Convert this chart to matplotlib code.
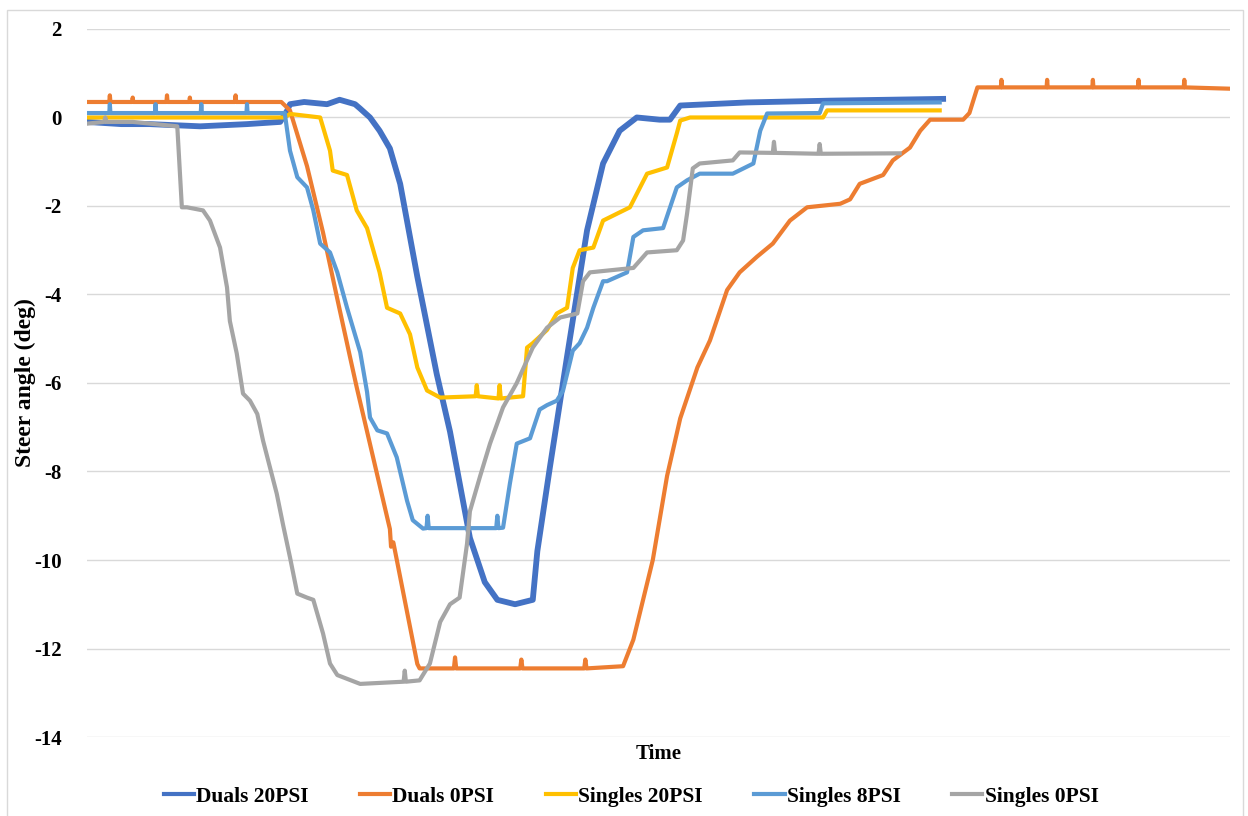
import matplotlib

matplotlib.use("Agg")
import matplotlib.pyplot as plt
from matplotlib.patches import Rectangle

plt.rcParams["font.family"] = ["Liberation Serif", "DejaVu Serif"]
plt.rcParams["font.weight"] = "bold"
plt.rcParams["axes.unicode_minus"] = False

# time axis is unlabeled in the original; samples 0..1000
duals20_t = [0, 30, 55, 99, 140, 169, 175, 177.6, 190, 210, 221, 234.5, 239, 247.6, 256, 265, 274,
             289, 306, 317.6, 335, 348, 359, 374.5, 390, 394, 405, 420, 437.5, 451.5, 466, 481,
             501, 510, 519, 577.5, 650, 700, 749]
duals20_y = [-0.1, -0.15, -0.15, -0.2, -0.15, -0.1, 0.15, 0.3, 0.35, 0.3, 0.4, 0.3, 0.2, 0.0, -0.3,
             -0.7, -1.5, -3.6, -5.8, -7.1, -9.5, -10.5, -10.9, -11.0, -10.9, -9.8, -7.9, -5.4,
             -2.55, -1.04, -0.3, 0.0, -0.05, -0.05, 0.27, 0.34, 0.38, 0.4, 0.42]

duals0_t = [0, 19.5, 20, 20.5, 39.5, 40, 40.5, 69.5, 70, 70.5, 89.5, 90, 90.5, 129.5, 130, 130.5,
            150, 170, 177.6, 192.5, 206.5, 219, 230, 236,
            265, 266, 268, 289, 291, 321, 322, 323, 379, 380, 381, 435, 436, 437, 469, 478, 495,
            507.5, 519, 534, 545, 560, 571, 586, 600, 615, 630, 659, 667.6, 676, 696.5,
            705, 720, 729, 737.6, 766.5, 772, 779, 799.5, 800, 800.5, 839.5, 840, 840.5, 879.5,
            880, 880.5, 919.5, 920, 920.5, 959.5, 960, 960.5, 1000]
duals0_y = [0.35, 0.35, 0.5, 0.35, 0.35, 0.45, 0.35, 0.35, 0.5, 0.35, 0.35, 0.45, 0.35, 0.35, 0.5,
            0.35, 0.35, 0.35, 0.16, -1.1, -2.6, -4.1, -5.4, -6.1,
            -9.3, -9.7, -9.6, -12.35, -12.45, -12.45, -12.2, -12.45, -12.45, -12.25, -12.45,
            -12.45, -12.25, -12.45, -12.4, -11.8, -10.0, -8.1, -6.8, -5.65, -5.04,
            -3.9, -3.5, -3.15, -2.85, -2.33, -2.03, -1.95, -1.85, -1.5, -1.3, -0.97,
            -0.68, -0.3, -0.05, -0.05, 0.1, 0.68, 0.68, 0.85, 0.68, 0.68, 0.85, 0.68, 0.68,
            0.85, 0.68, 0.68, 0.85, 0.68, 0.68, 0.85, 0.68, 0.65]

singles20_t = [0, 173, 177.6, 204, 212.6, 215, 227.5, 236, 245, 256, 262.5, 274, 282.6, 289, 297.5,
               309, 340, 341, 342, 360, 361, 362, 381.5, 385, 390, 402.5, 411, 420, 425, 431, 443,
               451.5, 464, 475, 490, 507.5, 516, 519, 527.6, 600, 644, 647.5, 746]
singles20_y = [0.0, 0.0, 0.08, 0.0, -0.75, -1.2, -1.3, -2.1, -2.5, -3.5, -4.3, -4.43, -4.9, -5.65,
               -6.17, -6.33, -6.3, -6.05, -6.3, -6.35, -6.05, -6.35, -6.3, -5.2, -5.1, -4.8, -4.43,
               -4.3, -3.4, -3.0, -2.94, -2.33, -2.17, -2.03, -1.27, -1.13, -0.36, -0.07, 0.0, 0.0,
               0.0, 0.16, 0.16]

singles8_t = [0, 19.5, 20, 20.5, 59.5, 60, 60.5, 99.5, 100, 100.5, 139.5, 140, 140.5, 173, 177.6,
              184, 192.5, 198, 204, 212.6, 219,
              227.5, 236, 239, 245, 247.6, 254, 262.5, 271, 280, 285, 294, 297, 298, 299, 358, 359,
              360, 364, 370, 376, 387.6, 396, 402.5, 411, 416.5, 425, 431, 437.5, 443, 451.5, 455,
              472.5, 478, 486.5, 504, 516, 525, 536, 565, 583, 589, 595, 641, 644, 746]
singles8_y = [0.1, 0.1, 0.3, 0.1, 0.1, 0.3, 0.1, 0.1, 0.3, 0.1, 0.1, 0.3, 0.1, 0.1, -0.75,
              -1.35, -1.58, -2.1, -2.85,
              -3.05, -3.5, -4.3, -5.04, -5.3, -6.2, -6.78, -7.07, -7.14, -7.68, -8.66, -9.1, -9.29,
              -9.28, -9.0, -9.28, -9.28, -9.0, -9.28, -9.27, -8.27, -7.37, -7.25, -6.6, -6.5, -6.4,
              -6.17, -5.27, -5.1, -4.75, -4.3, -3.7, -3.7, -3.5, -2.7, -2.55, -2.5, -1.58, -1.42,
              -1.27, -1.27, -1.04, -0.3, 0.09, 0.1, 0.32, 0.34]

singles0_t = [0, 15, 16, 17, 40, 79, 83, 87.5, 101.5, 107.6, 116.4, 122.5, 125, 131, 136.5, 142.6,
              149, 154, 160, 166, 171.5, 177.6, 184, 192.5, 198, 206.5, 212.6, 219, 239, 277, 278,
              279, 291, 300, 309, 317.6, 326, 332.5, 335, 344, 352.6, 364, 376, 390, 402.5, 414,
              429, 434, 440, 478, 490, 516, 521.5, 525, 530, 536, 565, 571, 600, 601, 602, 640,
              641, 642, 711]
singles0_y = [-0.14, -0.1, 0.0, -0.1, -0.1, -0.2, -2.03, -2.03, -2.1, -2.33, -2.94, -3.84, -4.6,
              -5.33, -6.24, -6.4, -6.7, -7.3, -7.9, -8.5, -9.2, -9.94, -10.76, -10.85, -10.9,
              -11.66, -12.34, -12.6, -12.8, -12.75, -12.5, -12.75, -12.72, -12.34, -11.4, -11.0,
              -10.85, -9.63, -8.9, -8.1, -7.37, -6.55, -6.0, -5.2, -4.75, -4.52, -4.43, -3.7, -3.5,
              -3.4, -3.05, -3.0, -2.78, -2.17, -1.15, -1.04, -0.97, -0.79, -0.8, -0.55, -0.8,
              -0.82, -0.6, -0.82, -0.81]

series = [
    ("Duals 20PSI", duals20_t, duals20_y, "#4472C4", 4.2),
    ("Duals 0PSI", duals0_t, duals0_y, "#ED7D31", 3.0),
    ("Singles 20PSI", singles20_t, singles20_y, "#FFC000", 3.0),
    ("Singles 8PSI", singles8_t, singles8_y, "#5B9BD5", 3.0),
    ("Singles 0PSI", singles0_t, singles0_y, "#A5A5A5", 3.0),
]

fig = plt.figure(figsize=(12.48, 8.16), dpi=100)
ax = fig.add_axes([0.0697, 0.0968, 0.9159, 0.8677])

for name, t, y, color, lw in series:
    ax.plot(t, y, color=color, linewidth=lw, label=name, solid_joinstyle="round")

ax.set_xlim(0, 1000)
ax.set_ylim(-14, 2)
ax.set_yticks(range(-14, 3, 2))
ax.set_xticks([])
ax.grid(axis="y", color="#d9d9d9", linewidth=1)
ax.set_axisbelow(True)
for s in ax.spines.values():
    s.set_visible(False)
ax.tick_params(axis="y", length=0, pad=18, labelsize=15)

ax.set_ylabel("Steer angle (deg)", fontsize=17, fontweight="bold")
ax.yaxis.set_label_coords(-0.045, 0.5)
ax.set_xlabel("Time", fontsize=15, fontweight="bold", labelpad=5)

leg = ax.legend(loc="upper center", bbox_to_anchor=(0.476, -0.043), ncol=5, frameon=False,
                fontsize=15.5, handlelength=1.4, handletextpad=0.1, columnspacing=2.4)
for h in leg.get_lines():
    h.set_linewidth(3.0)

fig.patches.append(Rectangle((7 / 1248, -0.01), 1236 / 1248, 0.9977, transform=fig.transFigure,
                             fill=False, edgecolor="#d9d9d9", linewidth=1))

fig.savefig("out.png", dpi=100)
